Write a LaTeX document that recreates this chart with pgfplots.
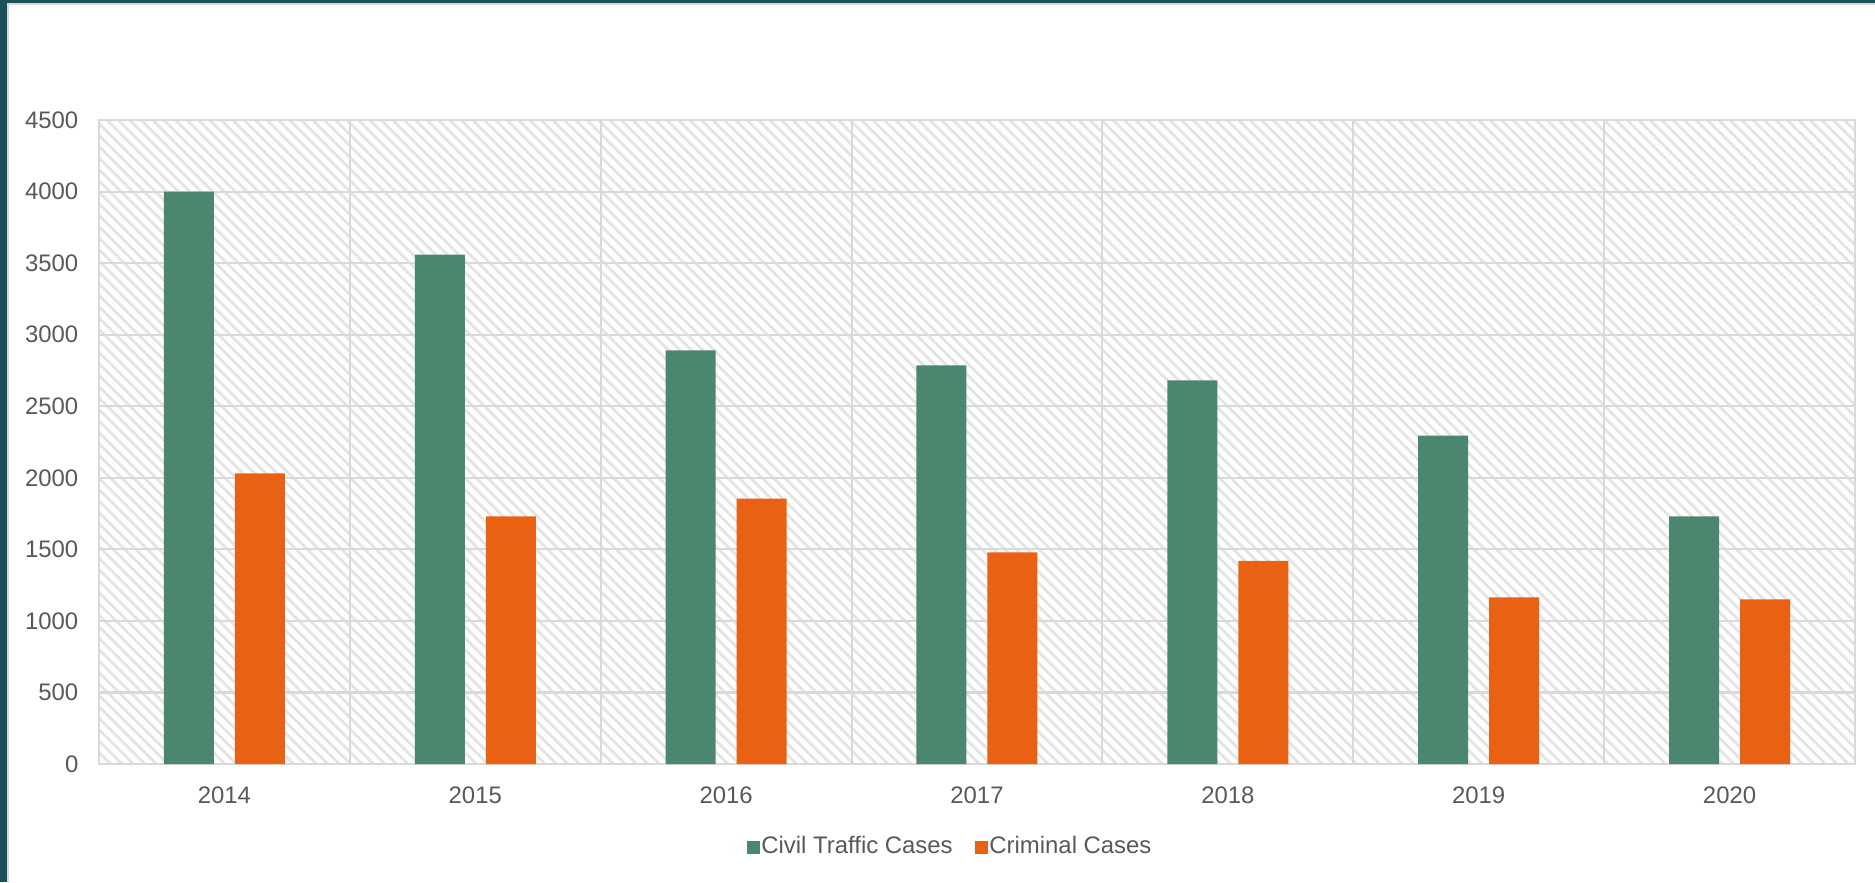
\documentclass[border=0pt]{standalone}
\usepackage{pgfplots}
\pgfplotsset{compat=1.18}
\usepackage{fontspec}
\setmainfont{Liberation Sans}
\usetikzlibrary{patterns.meta}
\definecolor{frameteal}{RGB}{30,80,90}
\definecolor{gridgrey}{RGB}{217,217,217}
\definecolor{hatchgrey}{RGB}{228,228,228}
\definecolor{txtgrey}{RGB}{89,89,89}
\definecolor{civgreen}{RGB}{75,135,110}
\definecolor{crimorange}{RGB}{233,98,20}
\begin{document}
\begin{tikzpicture}
\useasboundingbox (0,0) rectangle (187.5mm,88.2mm);
\fill[white] (0,0) rectangle (187.5mm,88.2mm);
\fill[frameteal] (0,0) rectangle (0.7mm,88.2mm);
\fill[frameteal] (0,87.9mm) rectangle (187.5mm,88.2mm);
\fill[gridgrey] (0.7mm,0) rectangle (0.85mm,87.9mm);
\fill[gridgrey] (0.7mm,87.7mm) rectangle (187.5mm,87.9mm);
\begin{axis}[
  at={(9.9mm,11.8mm)}, anchor=south west,
  scale only axis, width=175.6mm, height=64.4mm,
  xmin=-0.5, xmax=6.5, ymin=0, ymax=4500,
  ytick={0,500,...,4500},
  xtick={0,1,2,3,4,5,6},
  xticklabels={2014,2015,2016,2017,2018,2019,2020},
  minor xtick={0.5,1.5,2.5,3.5,4.5,5.5},
  xminorgrids=true, ymajorgrids=true,
  grid style={draw=gridgrey, line width=0.6pt},
  minor grid style={draw=gridgrey, line width=0.6pt},
  axis line style={draw=gridgrey, line width=0.6pt},
  major tick length=0pt, minor tick length=0pt,
  axis background/.style={pattern={Lines[angle=-45,distance=2.3pt,line width=0.8pt]}, pattern color=hatchgrey},
  /pgf/number format/1000 sep={},
  /pgf/number format/assume math mode=true,
  ticklabel style={font=\fontsize{6.8}{8}\selectfont, text=txtgrey},
  yticklabel style={inner sep=0pt, anchor=east, xshift=-2mm},
  xticklabel style={inner sep=0pt, anchor=north, yshift=-2.2mm},
  ybar=2.1mm, bar width=5mm,
  legend style={at={(0.4846,-0.13)}, anchor=center, draw=none, fill=none,
    font=\fontsize{6.8}{8}\selectfont, text=txtgrey, legend columns=2,
    nodes={inner sep=0.4pt},
    /tikz/every even column/.append style={column sep=2.1mm}, inner sep=0pt},
  legend image code/.code={\fill[#1] (0mm,-0.65mm) rectangle (1.3mm,0.65mm);},
]
\addplot[draw=none, fill=civgreen] coordinates {(0,4000) (1,3560) (2,2890) (3,2785) (4,2680) (5,2295) (6,1730)};
\addplot[draw=none, fill=crimorange] coordinates {(0,2030) (1,1730) (2,1855) (3,1478) (4,1420) (5,1165) (6,1150)};
\legend{Civil Traffic Cases, Criminal Cases}
\end{axis}
\end{tikzpicture}
\end{document}
